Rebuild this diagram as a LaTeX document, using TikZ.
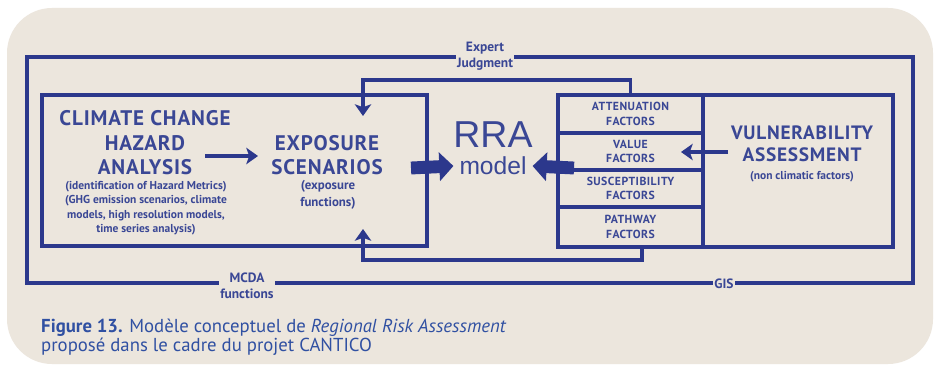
\documentclass[tikz,border=0pt]{standalone}
\usepackage{fontspec}
\setsansfont{PT Sans}
\newfontfamily\capsfont[LetterSpace=4]{PT Sans}
\newfontfamily\arialfont{Liberation Sans}
\usetikzlibrary{arrows.meta}
\definecolor{bgbeige}{HTML}{ECE6DD}
\definecolor{diagblue}{HTML}{2C388C}
\definecolor{textblue}{HTML}{3A4795}
\definecolor{capblue}{HTML}{3050A2}
\tikzset{
  wire/.style={diagblue, line width=2.6pt},
  thinarrow/.style={wire, -{Stealth[length=10pt,width=14pt,inset=2.5pt]}},
  fatarrow/.style={diagblue, line width=11pt, -{Triangle[length=12pt,width=24pt]}},
  frame/.style={draw=diagblue, line width=2.6pt},
  cell/.style={frame, minimum width=4.35cm, align=center, text=textblue,
    font=\capsfont\bfseries\fontsize{10}{12.5}\selectfont},
  bigtext/.style={align=center, text=textblue, font=\capsfont\bfseries\fontsize{18}{21}\selectfont},
  smalltext/.style={align=center, text=textblue, font=\sffamily\bfseries\fontsize{9.8}{12.3}\selectfont},
  looplabel/.style={align=center, text=textblue, inner sep=1pt, font=\sffamily\bfseries\fontsize{11.5}{14}\selectfont}
}
\begin{document}
\begin{tikzpicture}[x=0.03cm,y=-0.03cm]
% draws background
\fill[white] (0,0) rectangle (934,366);
\fill[bgbeige, rounded corners=1.35cm] (7,8) rectangle (933,364);
% draws boxes
\node[frame, minimum width=11.55cm, minimum height=4.53cm] (hbox) at (234.5,170.5) {};
\node[frame, minimum width=5.7cm, minimum height=4.56cm] (vbox) at (798,171) {};
\node[cell, minimum height=1.14cm] (att) at (630.5,114) {ATTENUATION\\FACTORS};
\node[cell, minimum height=1.11cm] (val) at (630.5,151.5) {VALUE\\FACTORS};
\node[cell, minimum height=1.11cm] (sus) at (630.5,188.5) {SUSCEPTIBILITY\\FACTORS};
\node[cell, minimum height=1.2cm] (path) at (630.5,227) {PATHWAY\\FACTORS};
% labels boxes
\node[bigtext] (haz) at (145,143) {CLIMATE CHANGE\\HAZARD\\ANALYSIS};
\node[smalltext] (hazsub) at (146,208) {(identification of Hazard Metrics)\\(GHG emission scenarios, climate\\models, high resolution models,\\time series analysis)};
\node[bigtext] (expo) at (327,155) {EXPOSURE\\SCENARIOS};
\node[smalltext, font=\sffamily\bfseries\fontsize{11}{14}\selectfont] (exposub) at (328,195) {(exposure\\functions)};
\node[text=textblue, font=\arialfont\fontsize{32}{32}\selectfont] (rra) at (493,135) {RRA};
\node[text=textblue, inner sep=5pt, font=\arialfont\fontsize{21}{21}\selectfont] (model) at (493,166) {model};
\node[bigtext, font=\capsfont\bfseries\fontsize{16.5}{19}\selectfont] (vuln) at (802,144) {VULNERABILITY\\ASSESSMENT};
\node[smalltext, font=\sffamily\bfseries\fontsize{9.8}{11}\selectfont] (vulnsub) at (802,177) {(non climatic factors)};
% labels outer loop
\node[looplabel] (ej) at (485,56) {Expert\\Judgment};
\node[looplabel] (mcda) at (247,286) {MCDA\\functions};
\node[looplabel] (gis) at (724,284) {GIS};
% draws outer loop
\coordinate (nw) at (27,57);
\coordinate (ne) at (913,57);
\coordinate (se) at (913,283);
\coordinate (sw) at (27,283);
\draw[wire] (ej.west |- nw) -- (nw) -- (sw) -- (mcda.west |- sw);
\draw[wire] (mcda.east |- sw) -- (gis.west |- sw);
\draw[wire] (gis.east |- se) -- (se) -- (ne) -- (ej.east |- ne);
% draws feedback arrows
\coordinate (fbtop) at (363,80);
\coordinate (expoin) at (363,116);
\draw[thinarrow] (att.north) |- (fbtop) -- (expoin);
\coordinate (pfb) at (642,247);
\coordinate (fbbot) at (363,260);
\coordinate (expoout) at (363,229);
\draw[thinarrow] (pfb) |- (fbbot) -- (expoout);
% draws other arrows
\coordinate (hzout) at (205,156);
\coordinate (exin) at (258,156);
\draw[thinarrow] (hzout) -- (exin);
\coordinate (vaout) at (728,152);
\coordinate (vain) at (681,152);
\draw[thinarrow] (vaout) -- (vain);
\coordinate (bigl) at (411,168);
\coordinate (bigr) at (574,168);
\draw[fatarrow] (bigl) -- (model.west);
\draw[fatarrow] (bigr) -- (model.east);
% caption
\node[anchor=base west, inner sep=0, text=capblue, font=\sffamily\fontsize{16}{19}\selectfont] (cap1) at (41,332) {\textbf{Figure 13.} Modèle conceptuel de \textit{Regional Risk Assessment}};
\node[anchor=base west, inner sep=0, text=capblue, font=\sffamily\fontsize{16}{19}\selectfont] (cap2) at (41,351) {proposé dans le cadre du projet CANTICO};
\end{tikzpicture}
\end{document}
